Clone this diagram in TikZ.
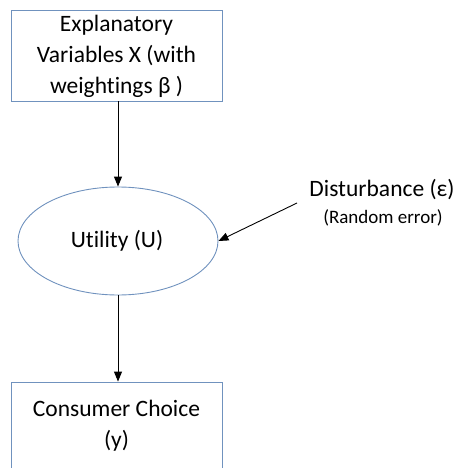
\documentclass[tikz,border=0pt]{standalone}
\usepackage{fontspec}
\setmainfont[Ligatures=NoCommon]{Carlito}
\usetikzlibrary{arrows.meta,shapes.geometric}
\definecolor{frame}{RGB}{112,146,190}
\tikzset{
  box/.style={draw=frame, line width=0.9pt, rectangle, inner sep=0pt},
  oval/.style={draw=frame, line width=0.9pt, ellipse, inner sep=0pt},
  lbl/.style={font=\fontsize{23.5}{31}\selectfont, align=center, inner sep=0pt},
  small/.style={font=\fontsize{19}{22}\selectfont, inner sep=0pt},
  link/.style={line width=0.9pt, -{Triangle[length=10pt,width=8pt]}}
}
\begin{document}
\begin{tikzpicture}[x=1pt,y=-1pt]
  \useasboundingbox (0,0) rectangle (459,468);
  \clip (0,0) rectangle (459,468);
  % boxes and the utility oval
  \node[box, minimum width=211, minimum height=91] (expl) at (116.5,55.5) {};
  \node[lbl] at (116.5,56) {Explanatory\\Variables X (with\\weightings β )};
  \node[oval, minimum width=200, minimum height=108] (util) at (118,241) {};
  \node[lbl] at (117,241) {Utility (U)};
  \node[box, minimum width=211, minimum height=140] (choice) at (116.5,452) {};
  \node[lbl] at (116.5,426) {Consumer Choice\\(y)};
  % disturbance term
  \node[lbl] (dist) at (382,190) {Disturbance (ε)};
  \node[small] (err) at (383,218) {(Random error)};
  \coordinate (dstart) at (297,203);
  % connectors
  \draw[link] (expl.south -| util.north) -- (util.north);
  \draw[link] (util.south) -- (util.south |- choice.north);
  \draw[link] (dstart) -- (util.east);
\end{tikzpicture}
\end{document}
